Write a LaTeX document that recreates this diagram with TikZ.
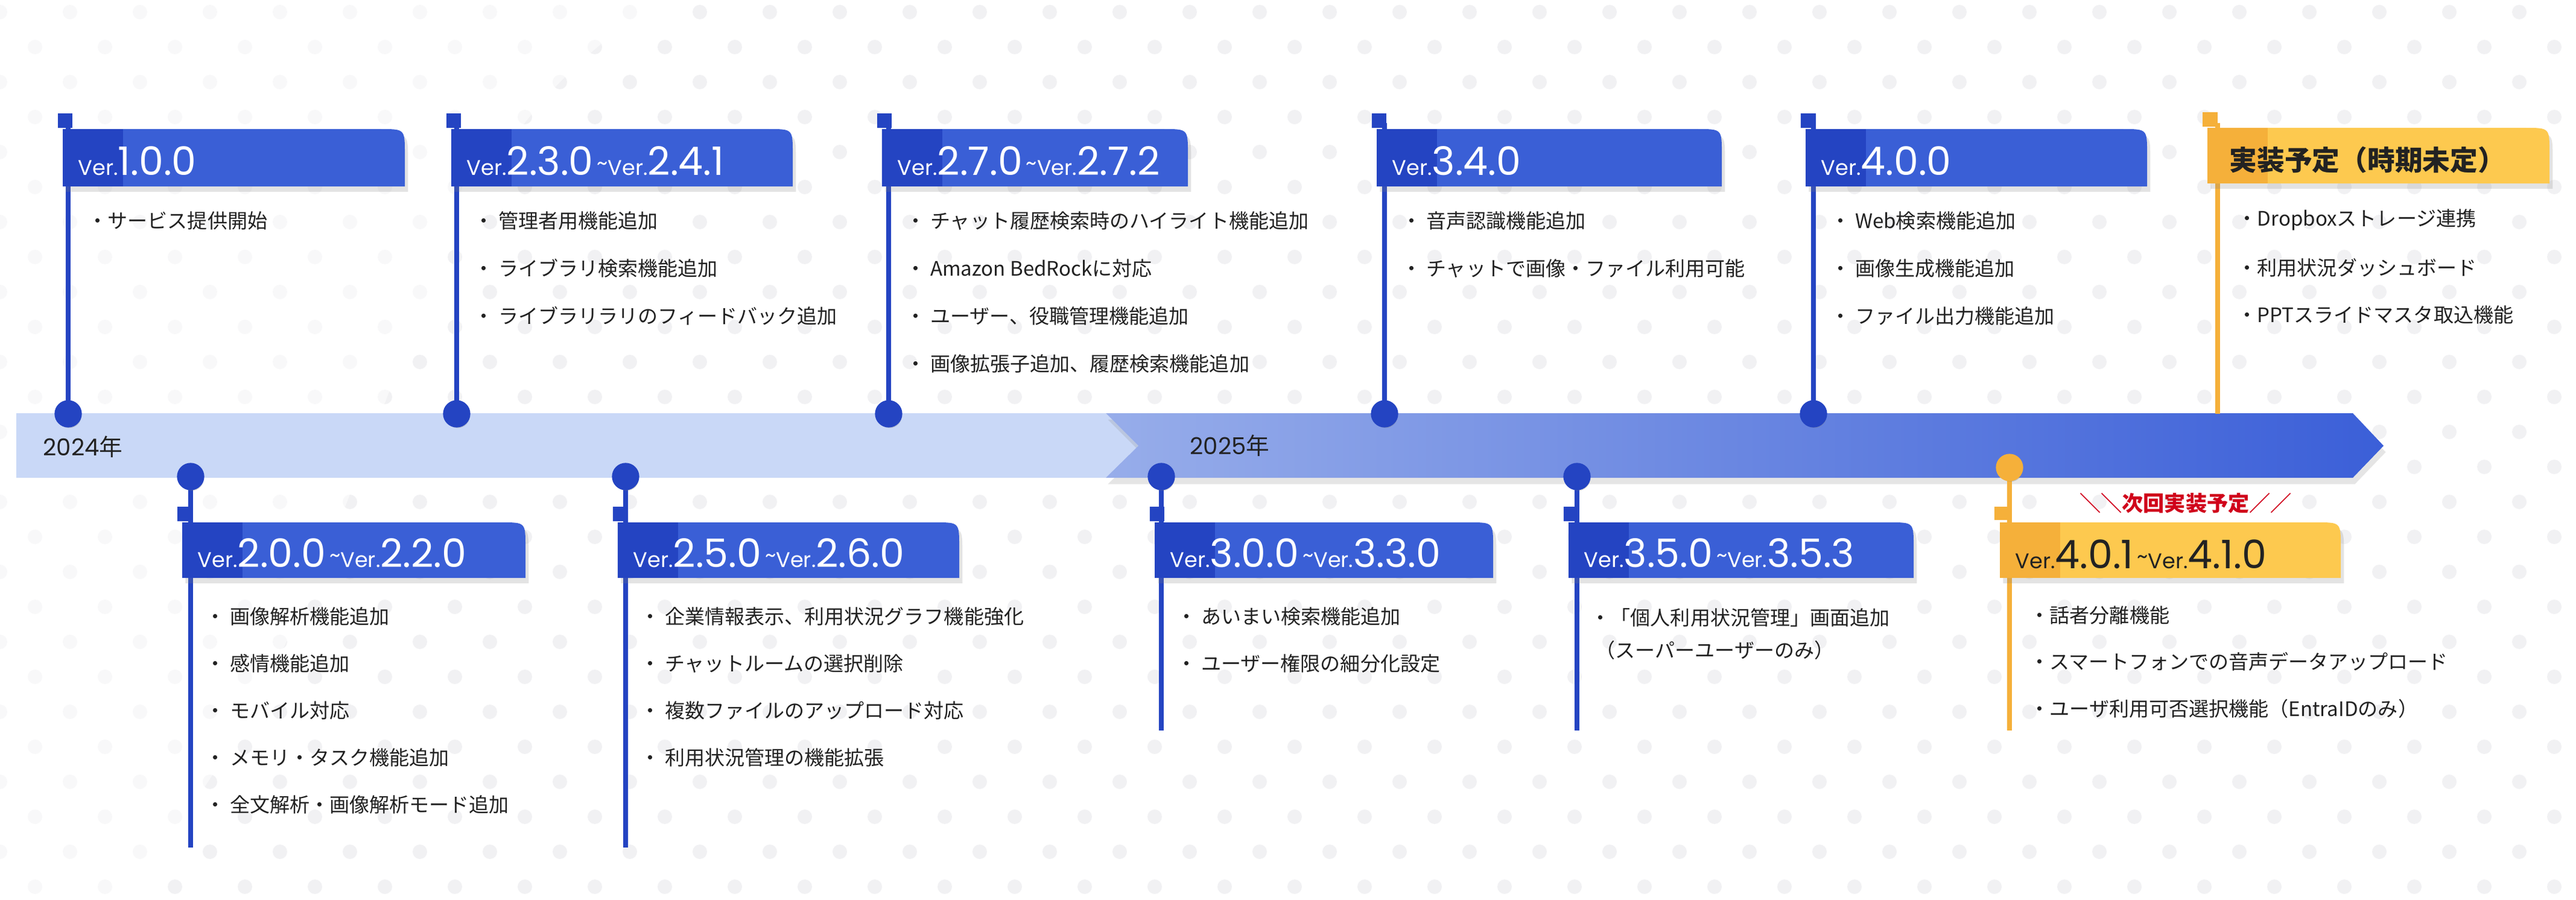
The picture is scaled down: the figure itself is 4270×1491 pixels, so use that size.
\documentclass[tikz,border=0pt]{standalone}
\usepackage{fontspec}
\setmainfont{Noto Sans CJK JP}
\newfontfamily\pop{Poppins}
\usetikzlibrary{shadows}
\definecolor{bluehd}{HTML}{3A5FD6}
\definecolor{bluedk}{HTML}{2444C2}
\definecolor{orhd}{HTML}{FDC94F}
\definecolor{ordk}{HTML}{F5B03A}
\definecolor{barlt}{HTML}{C9D8F7}
\definecolor{barmid}{HTML}{97ADEA}
\definecolor{barend}{HTML}{3B5FD8}
\definecolor{txt}{HTML}{222222}
\definecolor{dotc}{HTML}{F1F1F3}
\definecolor{redt}{HTML}{D0021B}
\tikzset{
 item/.style={anchor=west,inner sep=0pt,text=txt,font=\fontsize{9.4pt}{11pt}\selectfont},
 hdtxt/.style={anchor=base west,inner sep=0pt},
 vline/.style={line width=2.3pt},
 ring/.style={line width=1.5pt,fill=white,drop shadow={shadow xshift=0.5pt,shadow yshift=-1pt,opacity=0.35}},
 marker/.style={line width=1.4pt,fill=white},
 hshadow/.style={drop shadow={shadow xshift=1.5pt,shadow yshift=-2.5pt,opacity=0.22}},
}
\newcommand{\verhd}[2]{{\pop\color{white}\fontsize{10pt}{10pt}\selectfont Ver.\fontsize{18.5pt}{18pt}\selectfont #1\ifx&#2&\else\fontsize{10pt}{10pt}\selectfont\,\raisebox{2pt}{\textasciitilde}Ver.\fontsize{18.5pt}{18pt}\selectfont #2\fi}}
% header: L R T B main dark
\newcommand{\hdr}[6]{%
 \fill[#5,hshadow] (#1,#4) -- (#1,#3) -- (#2-40,#3) .. controls (#2,#3) .. (#2,#3+40) -- (#2,#4) -- cycle;
 \fill[#6] (#1,#4) rectangle (#1+100,#3);}
\begin{document}
\begin{tikzpicture}[x=0.01cm,y=-0.01cm]
\useasboundingbox (0,0) rectangle (4270,1491);
\fill[white] (0,0) rectangle (4270,1491);
\foreach \r in {0,...,25}{\pgfmathsetmacro\off{mod(\r,2)*58}
 \foreach \c in {0,...,37}{\fill[dotc] (\c*116+\off,\r*58+20) circle[radius=12];}}
\fill[white,opacity=0.5] (200,1491) .. controls (700,900) and (600,300) .. (1100,0) -- (0,0) -- (0,1491) -- cycle;
% bar
\fill[barlt] (27,685) -- (1833,685) -- (1887,739) -- (1833,792) -- (27,792) -- cycle;
\shade[left color=barmid,right color=barend,drop shadow={shadow xshift=1pt,shadow yshift=-3pt,opacity=0.2}] (1833,685) -- (3900,685) -- (3951,739) -- (3900,792) -- (1833,792) -- (1887,739) -- cycle;
\node[inner sep=0pt,anchor=west,text=txt] (y24) at (71,741) {{\pop\fontsize{11pt}{11pt}\selectfont 2024}\fontsize{11pt}{11pt}\selectfont 年};
\node[inner sep=0pt,anchor=west,text=txt] (y25) at (1972,739) {{\pop\fontsize{11pt}{11pt}\selectfont 2025}\fontsize{11pt}{11pt}\selectfont 年};

% ===== top flags =====
% flag 1
\coordinate (m1) at (108,200); \coordinate (c1) at (113,686); \coordinate (t1) at (113,204);
\draw[vline,bluedk] (t1) -- (c1);
\hdr{104}{671}{214}{309}{bluehd}{bluedk}
\draw[marker,bluedk] (98,190) rectangle (118,210);
\draw[ring,bluedk] (c1) circle[radius=20];
\node[hdtxt] (h1) at (129,290) {\verhd{1.0.0}{}};
\node[item] (i11) at (145,366) {・サービス提供開始};
% flag 2
\coordinate (c2) at (757,686); \coordinate (t2) at (757,204);
\draw[vline,bluedk] (t2) -- (c2);
\hdr{748}{1314}{214}{309}{bluehd}{bluedk}
\draw[marker,bluedk] (742,190) rectangle (762,210);
\draw[ring,bluedk] (c2) circle[radius=20];
\node[hdtxt] (h2) at (773,290) {\verhd{2.3.0}{2.4.1}};
\node[item] (i21) at (785,366) {・ 管理者用機能追加};
\node[item] (i22) at (785,445) {・ ライブラリ検索機能追加};
\node[item] (i23) at (785,524) {・ ライブラリラリのフィードバック追加};
% flag 3
\coordinate (c3) at (1473,686); \coordinate (t3) at (1473,204);
\draw[vline,bluedk] (t3) -- (c3);
\hdr{1462}{1969}{214}{309}{bluehd}{bluedk}
\draw[marker,bluedk] (1456,190) rectangle (1476,210);
\draw[ring,bluedk] (c3) circle[radius=20];
\node[hdtxt] (h3) at (1487,290) {\verhd{2.7.0}{2.7.2}};
\node[item] (i31) at (1501,366) {・ チャット履歴検索時のハイライト機能追加};
\node[item] (i32) at (1501,445) {・ Amazon BedRockに対応};
\node[item] (i33) at (1501,524) {・ ユーザー、役職管理機能追加};
\node[item] (i34) at (1501,603) {・ 画像拡張子追加、履歴検索機能追加};
% flag 4
\coordinate (c4) at (2295,686); \coordinate (t4) at (2295,204);
\draw[vline,bluedk] (t4) -- (c4);
\hdr{2282}{2854}{214}{309}{bluehd}{bluedk}
\draw[marker,bluedk] (2276,190) rectangle (2296,210);
\draw[ring,bluedk] (c4) circle[radius=20];
\node[hdtxt] (h4) at (2307,290) {\verhd{3.4.0}{}};
\node[item] (i41) at (2323,366) {・ 音声認識機能追加};
\node[item] (i42) at (2323,445) {・ チャットで画像・ファイル利用可能};
% flag 5
\coordinate (c5) at (3006,686); \coordinate (t5) at (3006,204);
\draw[vline,bluedk] (t5) -- (c5);
\hdr{2993}{3559}{214}{309}{bluehd}{bluedk}
\draw[marker,bluedk] (2987,190) rectangle (3007,210);
\draw[ring,bluedk] (c5) circle[radius=20];
\node[hdtxt] (h5) at (3018,290) {\verhd{4.0.0}{}};
\node[item] (i51) at (3034,366) {・ Web検索機能追加};
\node[item] (i52) at (3034,445) {・ 画像生成機能追加};
\node[item] (i53) at (3034,524) {・ ファイル出力機能追加};
% flag 6 orange
\coordinate (c6) at (3676,686); \coordinate (t6) at (3676,204);
\draw[vline,ordk] (t6) -- (c6);
\hdr{3659}{4226}{212}{304}{orhd}{ordk}
\draw[marker,ordk] (3653,188) rectangle (3673,208);
\node[hdtxt,text=txt,font=\fontsize{13pt}{13pt}\selectfont\bfseries] (h6) at (3695,282) {実装予定（時期未定）};
\node[item] (i61) at (3708,364) {・Dropboxストレージ連携};
\node[item] (i62) at (3708,444) {・利用状況ダッシュボード};
\node[item] (i63) at (3708,522) {・PPTスライドマスタ取込機能};

% ===== bottom flags =====
% flag 7
\coordinate (c7) at (316,790); \coordinate (e7) at (316,1405);
\draw[vline,bluedk] (c7) -- (e7);
\hdr{302}{871}{866}{958}{bluehd}{bluedk}
\draw[marker,bluedk] (296,842) rectangle (316,862);
\draw[ring,bluedk] (c7) circle[radius=20];
\node[hdtxt] (h7) at (327,940) {\verhd{2.0.0}{2.2.0}};
\node[item] (i71) at (340,1022) {・ 画像解析機能追加};
\node[item] (i72) at (340,1100) {・ 感情機能追加};
\node[item] (i73) at (340,1178) {・ モバイル対応};
\node[item] (i74) at (340,1256) {・ メモリ・タスク機能追加};
\node[item] (i75) at (340,1334) {・ 全文解析・画像解析モード追加};
% flag 8
\coordinate (c8) at (1037,790); \coordinate (e8) at (1037,1405);
\draw[vline,bluedk] (c8) -- (e8);
\hdr{1024}{1590}{866}{958}{bluehd}{bluedk}
\draw[marker,bluedk] (1018,842) rectangle (1038,862);
\draw[ring,bluedk] (c8) circle[radius=20];
\node[hdtxt] (h8) at (1049,940) {\verhd{2.5.0}{2.6.0}};
\node[item] (i81) at (1061,1022) {・ 企業情報表示、利用状況グラフ機能強化};
\node[item] (i82) at (1061,1100) {・ チャットルームの選択削除};
\node[item] (i83) at (1061,1178) {・ 複数ファイルのアップロード対応};
\node[item] (i84) at (1061,1256) {・ 利用状況管理の機能拡張};
% flag 9
\coordinate (c9) at (1925,790); \coordinate (e9) at (1925,1211);
\draw[vline,bluedk] (c9) -- (e9);
\hdr{1914}{2475}{866}{958}{bluehd}{bluedk}
\draw[marker,bluedk] (1908,842) rectangle (1928,862);
\draw[ring,bluedk] (c9) circle[radius=20];
\node[hdtxt] (h9) at (1939,940) {\verhd{3.0.0}{3.3.0}};
\node[item] (i91) at (1950,1022) {・ あいまい検索機能追加};
\node[item] (i92) at (1950,1100) {・ ユーザー権限の細分化設定};
% flag 10
\coordinate (c10) at (2614,790); \coordinate (e10) at (2614,1211);
\draw[vline,bluedk] (c10) -- (e10);
\hdr{2600}{3172}{866}{958}{bluehd}{bluedk}
\draw[marker,bluedk] (2594,842) rectangle (2614,862);
\draw[ring,bluedk] (c10) circle[radius=20];
\node[hdtxt] (h10) at (2625,940) {\verhd{3.5.0}{3.5.3}};
\node[item] (i101) at (2636,1024) {・「個人利用状況管理」画面追加};
\node[item] (i102) at (2644,1078) {（スーパーユーザーのみ）};
% flag 11 orange
\coordinate (c11) at (3331,775); \coordinate (e11) at (3331,1211);
\draw[vline,ordk] (c11) -- (e11);
\hdr{3315}{3880}{866}{958}{orhd}{ordk}
\draw[marker,ordk] (3308,842) rectangle (3326,860);
\draw[ring,ordk] (c11) circle[radius=20];
\node[hdtxt] (h11) at (3340,942) {{\pop\color{txt}\fontsize{10pt}{10pt}\selectfont Ver.\fontsize{18.5pt}{18pt}\selectfont 4.0.1\fontsize{10pt}{10pt}\selectfont\,\raisebox{2pt}{\textasciitilde}Ver.\fontsize{18.5pt}{18pt}\selectfont 4.1.0}};
\node[inner sep=0pt,text=redt,font=\fontsize{10pt}{10pt}\selectfont\bfseries] (nx) at (3623,834) {＼＼次回実装予定／／};
\node[item] (i111) at (3364,1020) {・話者分離機能};
\node[item] (i112) at (3364,1097) {・スマートフォンでの音声データアップロード};
\node[item] (i113) at (3364,1175) {・ユーザ利用可否選択機能（EntraIDのみ）};
\end{tikzpicture}
\end{document}
